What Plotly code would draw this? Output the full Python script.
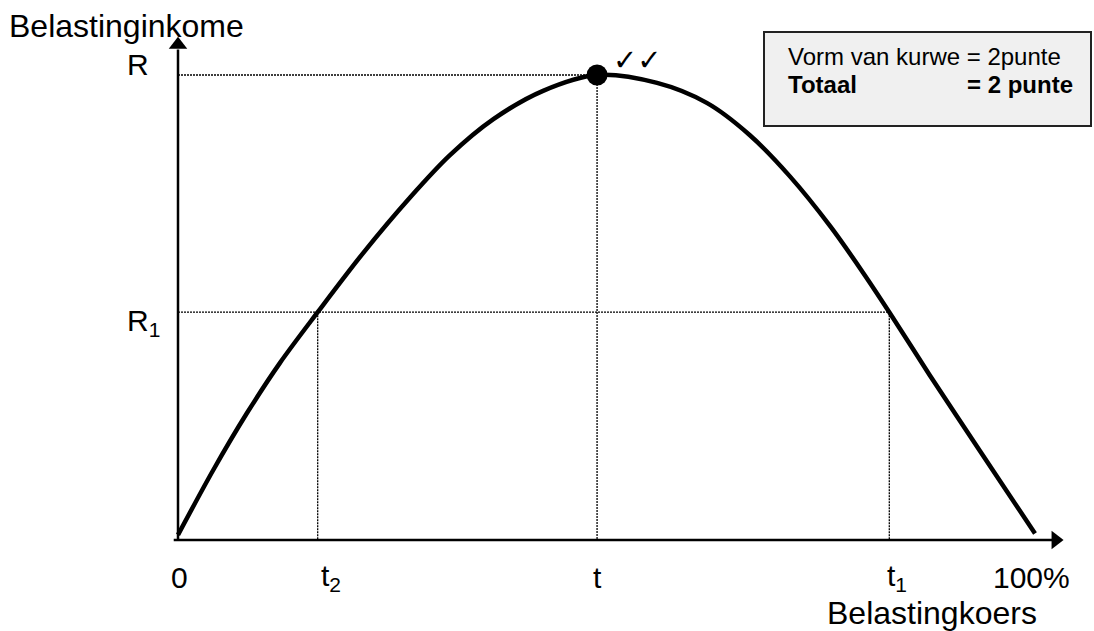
import plotly.graph_objects as go

# ---- data ----
tax_rate = [0, 4.1, 8.05, 11.9, 16.3, 21.6, 27.1, 31.7, 36.8, 42.6, 48.9,
            55.9, 61.7, 66.7, 71.4, 76.1, 79.9, 83.0, 87.7, 93.6, 100]
revenue = [1.1, 15.0, 27.3, 38.1, 49.0, 61.7, 73.7, 82.7, 90.5, 96.6, 100,
           98.3, 94.0, 87.1, 78.2, 67.5, 57.6, 49.0, 35.5, 19.1, 1.4]

R = 100
R1 = 49.0
t = 48.9
t2 = 16.3
t1 = 83.0

x_labels = ["0", "t<sub>2</sub>", "t", "t<sub>1</sub>", "100%"]
x_label_pos = [0, t2, t, t1, 100]
x_label_shift = [1, 13, 0, 8, -4]   # pixel nudges (style)

W, H = 1094, 631
FONT = "Liberation Sans, Arial, sans-serif"
XS = 8.57   # px per x unit
YS = 4.65   # px per y unit
X0, Y0 = 178, 540  # origin in px

fig = go.Figure()

# dotted guide lines
dot = dict(color="black", width=1.3, dash="2px,1px")
fig.add_trace(go.Scatter(x=[0, t], y=[R, R], mode="lines", line=dot, hoverinfo="skip"))
fig.add_trace(go.Scatter(x=[t, t], y=[R, 0], mode="lines", line=dot, hoverinfo="skip"))
fig.add_trace(go.Scatter(x=[0, t1], y=[R1, R1], mode="lines", line=dot, hoverinfo="skip"))
fig.add_trace(go.Scatter(x=[t2, t2], y=[R1, 0], mode="lines", line=dot, hoverinfo="skip"))
fig.add_trace(go.Scatter(x=[t1, t1], y=[R1, 0], mode="lines", line=dot, hoverinfo="skip"))

# axes
fig.add_trace(go.Scatter(x=[-0.5, 102], y=[0, 0], mode="lines",
                         line=dict(color="black", width=2.5), hoverinfo="skip"))
fig.add_trace(go.Scatter(x=[0, 0], y=[0, 105.5], mode="lines",
                         line=dict(color="black", width=2.5), hoverinfo="skip"))
fig.add_trace(go.Scatter(x=[102.4], y=[0], mode="markers",
                         marker=dict(symbol="triangle-right", size=16, color="black"),
                         hoverinfo="skip"))
fig.add_trace(go.Scatter(x=[0], y=[106.5], mode="markers",
                         marker=dict(symbol="triangle-up", size=16, color="black"),
                         hoverinfo="skip"))

# Laffer curve
fig.add_trace(go.Scatter(x=tax_rate, y=revenue, mode="lines",
                         line=dict(color="black", width=4.5, shape="spline", smoothing=0.9),
                         hoverinfo="skip"))
# peak marker
fig.add_trace(go.Scatter(x=[t], y=[R], mode="markers",
                         marker=dict(size=21, color="black"), hoverinfo="skip"))

ann = []
for lab, xp, sh in zip(x_labels, x_label_pos, x_label_shift):
    ann.append(dict(x=xp, y=-8, xref="x", yref="y", text=lab, showarrow=False,
                    xanchor="center", yanchor="middle", xshift=sh,
                    font=dict(size=30, color="black", family=FONT)))
ann.append(dict(x=-4.7, y=R + 2.2, xref="x", yref="y", text="R", showarrow=False,
                xanchor="center", yanchor="middle",
                font=dict(size=30, color="black", family=FONT)))
ann.append(dict(x=-4.0, y=R1 - 2.2, xref="x", yref="y", text="R<sub>1</sub>", showarrow=False,
                xanchor="center", yanchor="middle",
                font=dict(size=30, color="black", family=FONT)))
ann.append(dict(x=7 / W, y=1 - 26 / H, xref="paper", yref="paper", text="Belastinginkome",
                showarrow=False, xanchor="left", yanchor="middle",
                font=dict(size=32, color="black", family=FONT)))
ann.append(dict(x=1039 / W, y=1 - 613 / H, xref="paper", yref="paper", text="Belastingkoers",
                showarrow=False, xanchor="right", yanchor="middle",
                font=dict(size=32, color="black", family=FONT)))
ann.append(dict(x=t, y=R, xref="x", yref="y", text="\u2713\u2713", showarrow=False,
                xanchor="left", yanchor="middle", xshift=14, yshift=15,
                font=dict(size=29, color="black", family="DejaVu Sans")))
ann.append(dict(x=786 / W, y=1 - 57 / H, xref="paper", yref="paper",
                text="Vorm van kurwe = 2punte", showarrow=False, xanchor="left", yanchor="middle",
                font=dict(size=24, color="black", family=FONT)))
ann.append(dict(x=786 / W, y=1 - 85 / H, xref="paper", yref="paper",
                text="<b>Totaal</b>", showarrow=False, xanchor="left", yanchor="middle",
                font=dict(size=24, color="black", family=FONT)))
ann.append(dict(x=1075 / W, y=1 - 85 / H, xref="paper", yref="paper",
                text="<b>= 2 punte</b>", showarrow=False, xanchor="right", yanchor="middle",
                font=dict(size=24, color="black", family=FONT)))

fig.update_layout(
    width=W, height=H,
    margin=dict(l=0, r=0, t=0, b=0),
    paper_bgcolor="white", plot_bgcolor="white",
    showlegend=False,
    xaxis=dict(range=[-X0 / XS, (W - X0) / XS], visible=False, fixedrange=True),
    yaxis=dict(range=[(Y0 - H) / YS, Y0 / YS], visible=False, fixedrange=True),
    annotations=ann,
    shapes=[dict(type="rect", xref="paper", yref="paper",
                 x0=764 / W, x1=1091 / W, y0=1 - 126 / H, y1=1 - 32 / H,
                 fillcolor="#f0f0f0", line=dict(color="#222222", width=2), layer="below")],
)

fig.write_html("out.html", config={"displayModeBar": False},
               post_script="document.body.style.margin='0';document.body.style.overflow='hidden';")
